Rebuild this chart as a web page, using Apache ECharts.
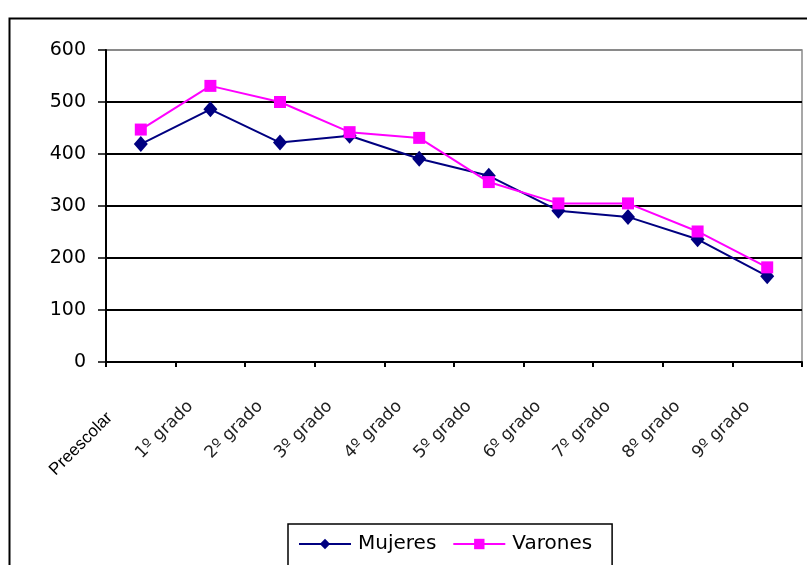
<!DOCTYPE html>
<html>
<head>
<meta charset="utf-8">
<script src="https://cdn.jsdelivr.net/npm/echarts@6/dist/echarts.min.js"></script>
<style>html,body{margin:0;padding:0;background:#fff;}#c{width:807px;height:565px;}</style>
</head>
<body>
<div id="c"></div>
<script>
var categories = ['Preescolar', '1º grado', '2º grado', '3º grado', '4º grado', '5º grado', '6º grado', '7º grado', '8º grado', '9º grado'];
var mujeres = [419, 486, 422, 435, 391, 358, 291, 279, 236, 165];
var varones = [447, 531, 500, 442, 431, 346, 305, 305, 251, 182];
var yTicks = [0, 100, 200, 300, 400, 500, 600];

var FONT = '"Liberation Sans", Arial, sans-serif';
var WIDE = '"DejaVu Sans", sans-serif';
var chart = echarts.init(document.getElementById('c'), null, {renderer: 'canvas'});
chart.setOption({
  animation: false,
  backgroundColor: '#fff',
  textStyle: {fontFamily: FONT},
  graphic: [{
    type: 'rect', left: 7, top: 16, silent: true,
    shape: {x: 0, y: 0, width: 820, height: 570},
    style: {fill: 'none', stroke: '#000', lineWidth: 2}
  }],
  grid: {left: 106, right: 5, top: 50, bottom: 203, show: true, borderColor: '#8a8a8a', borderWidth: 1.5, backgroundColor: 'transparent'},
  legend: {
    left: 288, top: 524,
    data: ['Mujeres', 'Varones'],
    itemWidth: 52, itemHeight: 13, itemGap: 16,
    padding: [10, 20, 20, 10],
    borderColor: '#000', borderWidth: 1.5,
    textStyle: {fontSize: 20, color: '#000', fontFamily: WIDE, padding: [0, 0, 0, 2]}
  },
  xAxis: {
    type: 'category',
    data: categories,
    boundaryGap: true,
    axisLine: {lineStyle: {color: '#000', width: 2}},
    axisTick: {show: true, length: 5, lineStyle: {color: '#000', width: 2}},
    axisLabel: {
      interval: 0, rotate: 45, margin: 22, color: '#000',
      formatter: function (v, i) { return (i === 0 ? '{p|' : '{g|') + v + '}'; },
      rich: {
        p: {fontSize: 17, fontFamily: FONT, color: '#000', padding: [0, 44, 0, 0]},
        g: {fontSize: 17, fontFamily: WIDE, color: '#222', padding: [0, 28, 0, 0]}
      }
    },
    splitLine: {show: false}
  },
  yAxis: {
    type: 'value', min: 0, max: 600, interval: 100,
    axisLine: {show: true, lineStyle: {color: '#000', width: 2}},
    axisTick: {show: true, inside: false, length: 8, lineStyle: {color: '#000', width: 1.5}},
    axisLabel: {
      fontSize: 19, color: '#000', margin: 20, fontFamily: WIDE,
      formatter: function (v) { return yTicks.indexOf(v) >= 0 ? String(v) : ''; }
    },
    splitLine: {show: true, lineStyle: {color: ['#000', '#000', '#000', '#000', '#000', '#000', '#8a8a8a'], width: 2}}
  },
  series: [{
    name: 'Mujeres', type: 'line', data: mujeres,
    symbol: 'diamond', symbolSize: [14, 16],
    lineStyle: {color: '#000080', width: 2},
    itemStyle: {color: '#000080'}
  }, {
    name: 'Varones', type: 'line', data: varones,
    symbol: 'rect', symbolSize: 12,
    lineStyle: {color: '#ff00ff', width: 2},
    itemStyle: {color: '#ff00ff'}
  }]
});
</script>
</body>
</html>
